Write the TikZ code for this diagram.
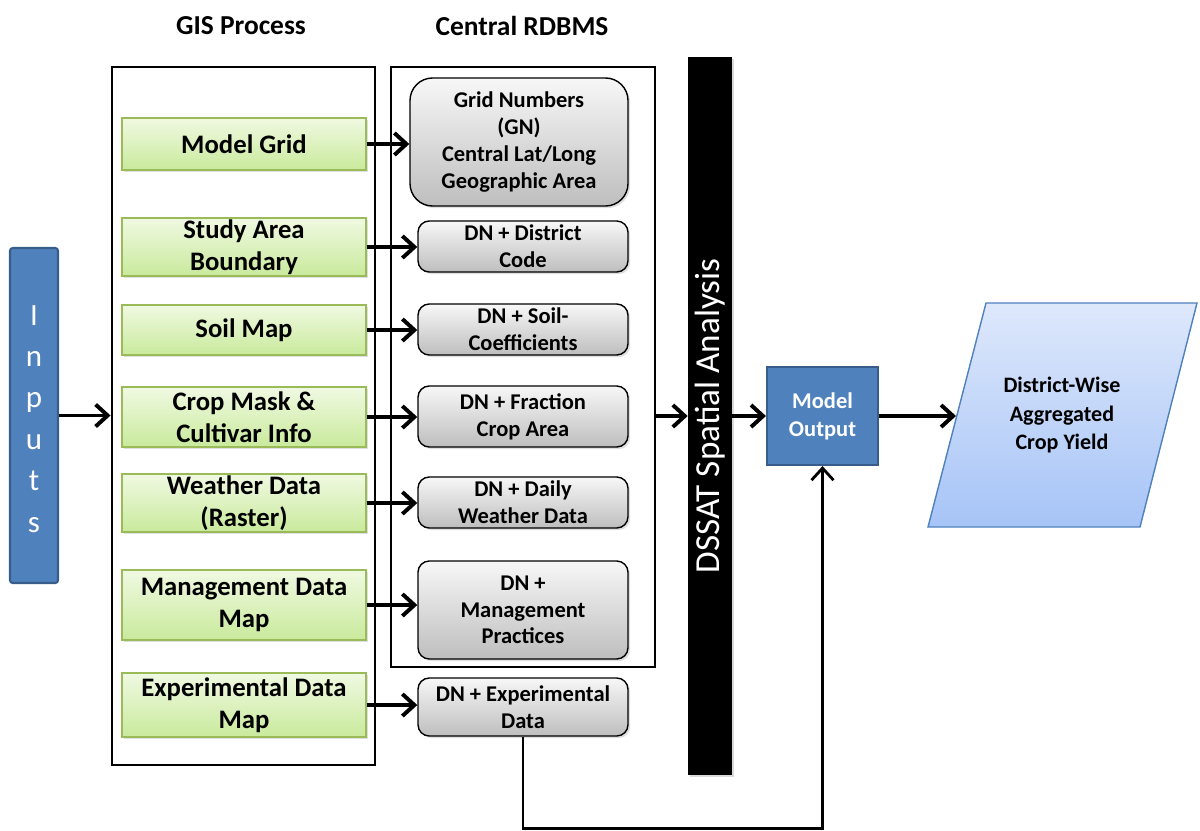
\documentclass[tikz,border=0pt]{standalone}
\usepackage{fontspec}
\setmainfont{Carlito}
\usetikzlibrary{arrows.meta,shadows}

\definecolor{inblue}{HTML}{4F81BD}
\definecolor{inblueD}{HTML}{385D8A}
\definecolor{grtop}{HTML}{F0F9E2}
\definecolor{grbot}{HTML}{C9EA9C}
\definecolor{grline}{HTML}{9BBB59}
\definecolor{dbtop}{HTML}{F7F7F7}
\definecolor{dbbot}{HTML}{BEBEBE}
\definecolor{ytop}{HTML}{DEE8FB}
\definecolor{ybot}{HTML}{A6C4F7}

\tikzset{
  frame/.style={draw,line width=2.1pt,minimum width=#1},
  gisbox/.style={draw=grline,line width=1pt,top color=grtop,bottom color=grbot,
    minimum width=244*0.025cm,align=center,inner sep=1pt,
    font=\fontsize{19}{23}\selectfont\bfseries,
    drop shadow={opacity=0.25,shadow xshift=1.5pt,shadow yshift=-1.5pt}},
  dbbox/.style={draw,line width=1pt,rounded corners=8pt,top color=dbtop,bottom color=dbbot,
    align=center,inner sep=1pt,font=\fontsize{16}{19}\selectfont\bfseries,
    drop shadow={opacity=0.25,shadow xshift=1.5pt,shadow yshift=-1.5pt}},
  link/.style={line width=2.8pt,-{Straight Barb[length=3mm,width=5.5mm]}},
  title/.style={font=\fontsize{19.5}{23}\selectfont\bfseries}
}

\begin{document}
\begin{tikzpicture}[x=0.025cm,y=-0.025cm]
    \useasboundingbox (0,0) rectangle (1200,830);
    %% column frames and headings
    \node[frame=263*0.025cm,minimum height=698*0.025cm] (gis) at (243.5,416) {};
    \node[frame=264*0.025cm,minimum height=600*0.025cm] (rdbms) at (523,367) {};
    \node[title] (gistitle) at (241,26) {GIS Process};
    \node[title] (dbtitle) at (522,26) {Central RDBMS};
    %% Inputs bar
    \node[fill=inblue,draw=inblueD,line width=1.5pt,rounded corners=2pt,
        minimum width=48*0.025cm,minimum height=335*0.025cm] (inputs) at (34,415.5) {};
    \foreach \c [count=\i] in {I,n,p,u,t,s}
        \node[anchor=base,text=white,font=\fontsize{22}{26}\selectfont] (l\i) at (34,325+41.4*\i-41.4) {\c};
    %% GIS layers
    \foreach \n/\y/\h/\t in {mg/144/52/{Model Grid},
                             sab/247/52/{Study Area\\Boundary},
                             soil/330/50/{Soil Map},
                             crop/417/60/{Crop Mask \&\\Cultivar Info},
                             wx/503/53/{Weather Data\\(Raster)},
                             mgmt/605/70/{Management Data\\Map},
                             exp/705/64/{Experimental Data\\Map}}
        \node[gisbox,minimum height=\h*0.025cm] (\n) at (244,\y) {\t};
    %% database tables
    \node[dbbox,rounded corners=16pt,minimum width=218*0.025cm,minimum height=128*0.025cm] (gn) at (519,142)
        {Grid Numbers\\(GN)\\Central Lat/Long\\Geographic Area};
    \foreach \n/\y/\h/\t in {dc/246.5/51/{DN + District\\Code},
                             sc/329.5/51/{DN + Soil-\\Coefficients},
                             fc/416.5/61/{DN + Fraction\\Crop Area},
                             dw/502.5/51/{DN + Daily\\Weather Data},
                             mp/610/98/{DN +\\Management\\Practices},
                             ed/707/58/{DN + Experimental\\Data}}
        \node[dbbox,minimum width=210*0.025cm,minimum height=\h*0.025cm] (\n) at (523,\y) {\t};
    %% DSSAT bar
    \node[fill=black,minimum width=44*0.025cm,minimum height=718*0.025cm,
        drop shadow={opacity=0.3,shadow xshift=1.5pt,shadow yshift=-1.5pt}] (dssat) at (710,416) {};
    \node[rotate=90,text=white,font=\fontsize{25}{30}\selectfont] (dssatlbl) at (dssat) {DSSAT Spatial Analysis};
    %% model output and yield
    \node[fill=inblue,draw=inblueD,line width=1.5pt,minimum width=111*0.025cm,minimum height=98*0.025cm,
        text=white,align=center,font=\fontsize{16}{20}\selectfont\bfseries] (out) at (822.5,416) {Model\\Output};
    \draw[draw=inblue,line width=1pt,top color=ytop,bottom color=ybot]
        (986,303) -- (1197,303) -- (1140,527) -- (928,527) -- cycle;
    \node[align=center,font=\fontsize{15.7}{20}\selectfont\bfseries] (yield) at (1062,415)
        {District-Wise\\Aggregated\\Crop Yield};
    \coordinate (yin) at (956,416);
    %% connectors
    \draw[link] (inputs.east) -- (inputs.east -| gis.west);
    \foreach \a/\b in {mg/gn,sab/dc,soil/sc,crop/fc,wx/dw,mgmt/mp,exp/ed}
        \draw[link] (\a.east) -- (\a.east -| \b.west);
    \draw[link] (rdbms.east |- dssat.west) -- (dssat.west);
    \draw[link] (dssat.east) -- (out.west);
    \draw[link] (out.east) -- (yin);
    \draw[line width=2pt,-{Straight Barb[length=3mm,width=5.5mm]}]
        (ed.south) -- ++(0,92) -| (out.south);
\end{tikzpicture}
\end{document}
